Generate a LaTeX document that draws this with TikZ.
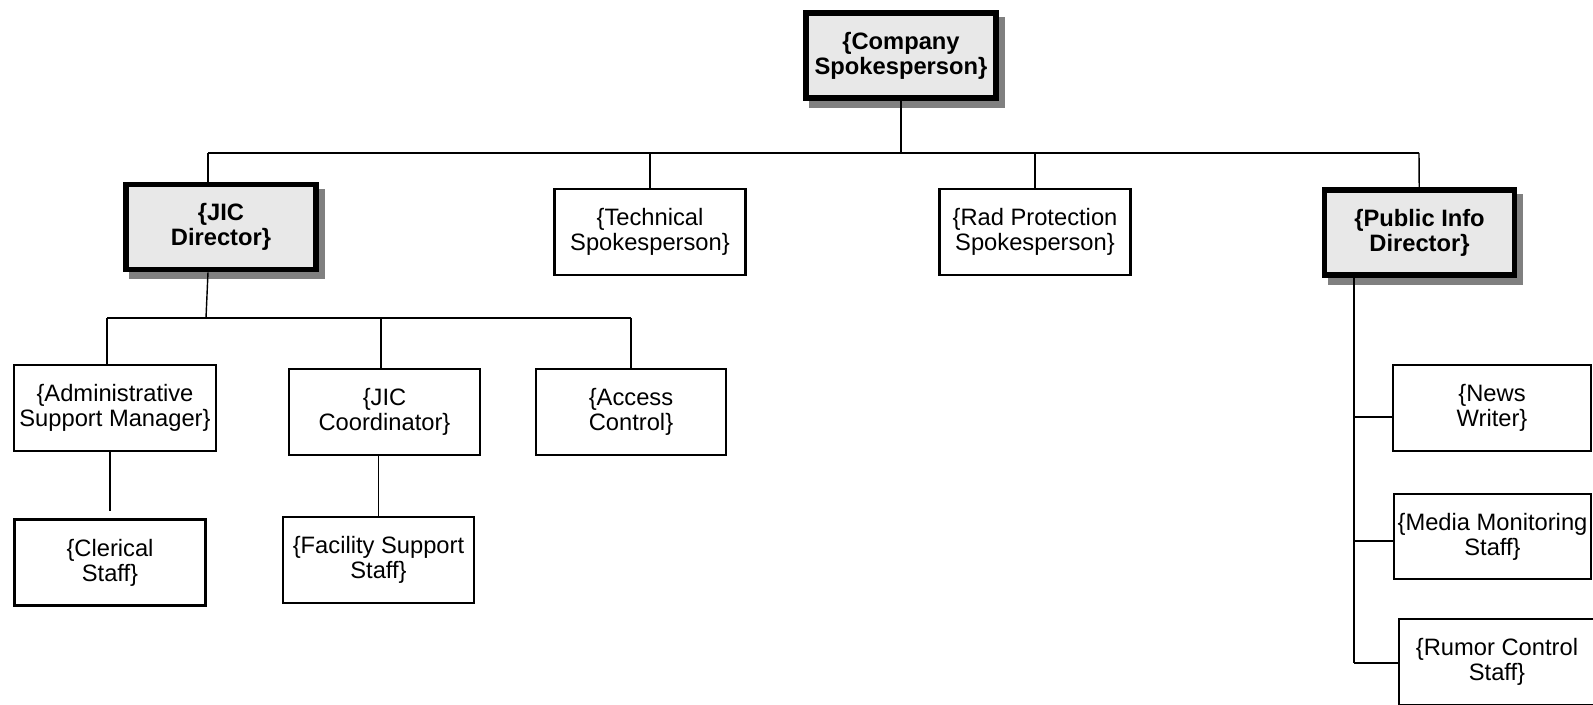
\documentclass[tikz,border=0pt]{standalone}
\usepackage{fontspec}
\setmainfont{Liberation Sans}
\usetikzlibrary{shadows, positioning}
\tikzstyle{lead} = [draw=black, line width=3.2pt, fill=black!9, align=center, inner sep=0,
                    font=\bfseries\fontsize{13.5}{14.3}\selectfont, minimum width=3.8cm, minimum height=1.7cm,
                    drop shadow={shadow xshift=0.12cm, shadow yshift=-0.14cm, fill=black!50, draw=black!50, line width=3.2pt, opacity=1}]
\tikzstyle{staff} = [draw=black, line width=1.3pt, align=center, inner sep=0,
                     font=\fontsize{13.5}{14.3}\selectfont, minimum width=3.82cm, minimum height=1.72cm]
\tikzstyle{wire} = [draw=black, line width=0.8pt]

\begin{document}
\begin{tikzpicture}[x=0.02cm, y=-0.02cm]
\useasboundingbox (0, 0) rectangle (1593, 705);

\node (Company) [lead] at (901, 55.5) {\{Company\\Spokesperson\}};
\coordinate (TopBus) at (901, 153);
\draw [wire] (Company) -- (TopBus);
\coordinate (BusJIC) at (208, 153);
\coordinate (BusPublic) at (1419, 153);
\draw [wire] (BusJIC) -- (BusPublic);

\node (JICDir) [lead] at (221, 227) {\{JIC\\Director\}};
\draw [wire] (BusJIC) -- (BusJIC |- JICDir.north);
\node (TechSpk) [staff] at (650, 232) {\{Technical\\Spokesperson\}};
\draw [wire] (TopBus -| TechSpk) -- (TechSpk);
\node (RadSpk) [staff] at (1035, 232) {\{Rad Protection\\Spokesperson\}};
\draw [wire] (TopBus -| RadSpk) -- (RadSpk);
\node (PublicDir) [lead] at (1419.5, 232.5) {\{Public Info\\Director\}};
\draw [wire] (BusPublic) -- (PublicDir);

\coordinate (SubBus) at (206, 318);
\draw [wire] (JICDir.south -| 208, 0) -- (SubBus);
\coordinate (SubBusL) at (107, 318);
\coordinate (SubBusM) at (381, 318);
\coordinate (SubBusR) at (631, 318);
\draw [wire] (SubBusL) -- (SubBusR);

\node (AdminMgr) [staff, minimum width=4.04cm] at (115, 408) {\{Administrative\\Support Manager\}};
\draw [wire] (SubBusL) -- (SubBusL |- AdminMgr.north);
\node (JICCoord) [staff] at (384.5, 412) {\{JIC\\Coordinator\}};
\draw [wire] (SubBusM) -- (SubBusM |- JICCoord.north);
\node (Access) [staff, minimum width=3.8cm] at (631, 412) {\{Access\\Control\}};
\draw [wire] (SubBusR) -- (Access);

\node (Clerical) [staff] at (110, 562.5) {\{Clerical\\Staff\}};
\coordinate (ClericalEnd) at (110, 511);
\draw [wire] (AdminMgr.south -| ClericalEnd) -- (ClericalEnd);
\node (Facility) [staff] at (378.5, 560) {\{Facility Support\\Staff\}};
\draw [wire] (JICCoord.south -| Facility.north) -- (Facility.north);

\coordinate (Trunk) at (1354, 274);
\coordinate (TrunkEnd) at (1354, 663);
\draw [wire] (Trunk) -- (TrunkEnd);

\node (News) [staff, minimum width=3.96cm] at (1492, 408) {\{News\\Writer\}};
\coordinate (NewsJoin) at (1354, 417);
\draw [wire] (NewsJoin) -- (NewsJoin -| News.west);
\node (Media) [staff, minimum width=3.94cm, minimum height=1.7cm] at (1492.5, 536.5) {\{Media Monitoring\\Staff\}};
\coordinate (MediaJoin) at (1354, 541);
\draw [wire] (MediaJoin) -- (MediaJoin -| Media.west);
\node (Rumor) [staff, minimum width=3.92cm] at (1497, 662) {\{Rumor Control\\Staff\}};
\draw [wire] (TrunkEnd) -- (TrunkEnd -| Rumor.west);
\end{tikzpicture}
\end{document}
